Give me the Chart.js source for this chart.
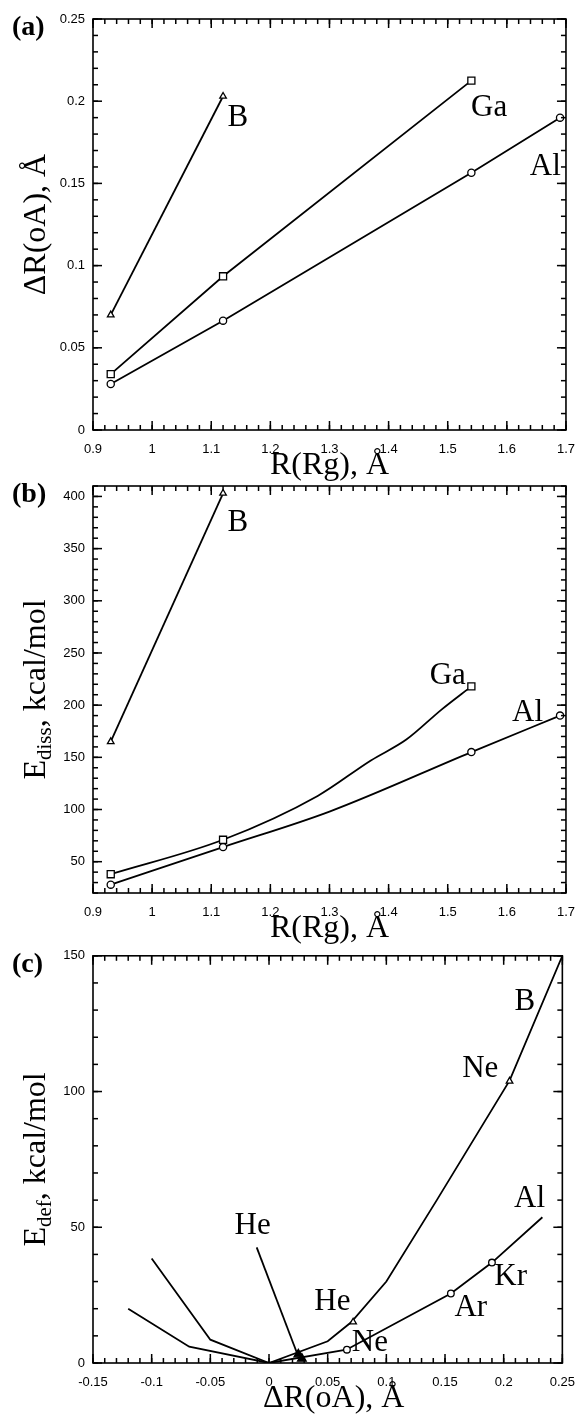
<!DOCTYPE html>
<html>
<head>
<meta charset="utf-8">
<script src="https://cdn.jsdelivr.net/npm/chart.js@4.4.0/dist/chart.umd.min.js"></script>
<style>
  body { margin: 0; background: #fff; width: 587px; height: 1414px; position: relative; overflow: hidden; }
  canvas { position: absolute; left: 0; }
</style>
</head>
<body>
<canvas id="chartA" width="587" height="490" style="top:0"></canvas>
<canvas id="chartB" width="587" height="480" style="top:470px"></canvas>
<canvas id="chartC" width="587" height="474" style="top:940px"></canvas>
<script>
// ---------- data ----------
// (a) ΔR(oA) against R(Rg)
const rgRadius = [0.93, 1.12, 1.54, 1.69];   // He, Ne, Ar, Kr
const dRB = [0.070, 0.203];
const dRGa = [0.034, 0.0935, 0.2125];
const dRAl = [0.028, 0.0665, 0.1565, 0.190];
const aXTicks = [0.9, 1, 1.1, 1.2, 1.3, 1.4, 1.5, 1.6, 1.7];
const aYTicks = [0, 0.05, 0.1, 0.15, 0.2, 0.25];

// (b) Ediss against R(Rg)
const eDissB = [165, 403];
const eDissGa = [38, 71, 218];
const eDissAl = [28, 64, 155, 190];
// the drawn curves between the points
const gaCurveX = [0.93, 1.12, 1.28, 1.37, 1.43, 1.49, 1.54];
const gaCurveY = [38, 71, 113, 147, 167, 196, 218];
const alCurveX = [0.93, 1.12, 1.3, 1.54, 1.69];
const alCurveY = [28, 64, 98, 155, 190];
const bXTicks = [0.9, 1, 1.1, 1.2, 1.3, 1.4, 1.5, 1.6, 1.7];
const bYTicks = [50, 100, 150, 200, 250, 300, 350, 400];

// (c) Edef against ΔR(oA)
const defBX = [-0.1, -0.05, 0, 0.05, 0.07, 0.1, 0.143, 0.205, 0.25];
const defBY = [38.5, 8.6, 0, 8, 15, 30, 60, 104, 150];
const defAlX = [-0.12, -0.068, 0, 0.066, 0.155, 0.19, 0.233];
const defAlY = [20, 6, 0, 4.9, 25.6, 37, 53.7];
const markBX = [0.0717, 0.205];            // He, Ne
const markBY = [15.1, 103.8];
const markAlX = [0.0664, 0.155, 0.19];     // Ne, Ar, Kr
const markAlY = [4.9, 25.6, 37];
const markHeX = [0.025, 0.028];            // He (filled)
const markHeY = [3.2, 1.6];
const cXTicks = [-0.15, -0.1, -0.05, 0, 0.05, 0.1, 0.15, 0.2, 0.25];
const cYTicks = [0, 50, 100, 150];

// ---------- helpers ----------
const zip = (xs, ys) => ys.map((y, i) => ({ x: xs[i], y: y }));
const tickFont = { family: '"Liberation Sans", Arial, sans-serif', size: 13 };
const SERIF = '"Liberation Serif", "Times New Roman", serif';

function lineSet(data, style, radius, smooth) {
  return {
    data: data,
    showLine: true,
    borderColor: '#000',
    borderWidth: 1.8,
    pointStyle: style || 'circle',
    pointRadius: radius || 0,
    pointBorderWidth: 1.3,
    pointBackgroundColor: '#fff',
    pointBorderColor: '#000',
    cubicInterpolationMode: smooth ? 'monotone' : 'default',
    tension: 0
  };
}

function markSet(data, style, radius, fill) {
  return {
    data: data,
    showLine: false,
    pointStyle: style,
    pointRadius: radius,
    pointBorderWidth: 1.3,
    pointBackgroundColor: fill || '#fff',
    pointBorderColor: '#000'
  };
}

function axes(xr, xTicks, yr, yTicks, xH) {
  const lbl = v => String(v);
  return {
    x: {
      type: 'linear', min: xr[0], max: xr[1],
      grid: { display: false, drawTicks: false }, border: { display: false },
      afterBuildTicks: s => { s.ticks = xTicks.map(v => ({ value: v })); },
      afterFit: s => { s.height = xH; },
      ticks: { padding: 12, font: tickFont, color: '#000', maxRotation: 0, autoSkip: false, callback: lbl }
    },
    y: {
      type: 'linear', min: yr[0], max: yr[1],
      grid: { display: false, drawTicks: false }, border: { display: false },
      afterBuildTicks: s => { s.ticks = yTicks.map(v => ({ value: v })); },
      afterFit: s => { s.width = 93; },
      ticks: { padding: 8, font: tickFont, color: '#000', autoSkip: false, callback: lbl }
    }
  };
}

// frame, inward ticks, titles and labels (one plugin per panel)
function decor(o) {
  return {
    id: 'decor',
    afterDraw(chart) {
      const { ctx, chartArea: a } = chart;
      const xs = chart.scales.x, ys = chart.scales.y;
      ctx.save();
      ctx.strokeStyle = '#000';
      ctx.fillStyle = '#000';
      ctx.lineWidth = 1.6;
      ctx.strokeRect(a.left, a.top, a.right - a.left, a.bottom - a.top);

      const t = 1.5;
      const mark = (v, len, isX) => {
        if (isX) {
          const p = xs.getPixelForValue(v);
          ctx.fillRect(p - t / 2, a.bottom - len, t, len);
          ctx.fillRect(p - t / 2, a.top, t, len);
        } else {
          const p = ys.getPixelForValue(v);
          ctx.fillRect(a.left, p - t / 2, len, t);
          ctx.fillRect(a.right - len, p - t / 2, len, t);
        }
      };
      const x0 = o.xRange[0], x1 = o.xRange[1], y0 = o.yRange[0], y1 = o.yRange[1];
      for (let i = 0; x0 + i * o.xMinor <= x1 + 1e-9; i++) mark(x0 + i * o.xMinor, 5, true);
      for (let i = 0; y0 + i * o.yMinor <= y1 + 1e-9; i++) mark(y0 + i * o.yMinor, 5, false);
      o.xMajor.forEach(v => mark(v, 9, true));
      o.yMajor.forEach(v => mark(v, 9, false));

      // arrow (panel c)
      if (o.arrow) {
        const ax1 = xs.getPixelForValue(o.arrow[0]), ay1 = ys.getPixelForValue(o.arrow[1]);
        const ax2 = xs.getPixelForValue(o.arrow[2]), ay2 = ys.getPixelForValue(o.arrow[3]);
        ctx.lineWidth = 1.8;
        ctx.beginPath(); ctx.moveTo(ax1, ay1); ctx.lineTo(ax2, ay2); ctx.stroke();
      }

      // curve labels
      ctx.font = '31px ' + SERIF;
      ctx.textAlign = 'center';
      ctx.textBaseline = 'middle';
      o.notes.forEach(n => ctx.fillText(n[0], xs.getPixelForValue(n[1]), ys.getPixelForValue(n[2])));

      // x title
      ctx.font = '32px ' + SERIF;
      ctx.fillText(o.xTitle, (a.left + a.right) / 2 + (o.xTitleShift || 0), a.bottom + 36);

      // panel letter
      ctx.font = 'bold 28px ' + SERIF;
      ctx.textAlign = 'left';
      ctx.fillText(o.panel, 12, a.top + 9);

      // y title, rotated, with optional subscript
      ctx.translate(34, (a.top + a.bottom) / 2 + (o.yTitleShift || 0));
      ctx.rotate(-Math.PI / 2);
      ctx.textBaseline = 'alphabetic';
      let w = 0;
      o.yTitle.forEach(p => { ctx.font = (p.sub ? '21px ' : '32px ') + SERIF; w += ctx.measureText(p.t).width; });
      let x = -w / 2;
      o.yTitle.forEach(p => {
        ctx.font = (p.sub ? '21px ' : '32px ') + SERIF;
        ctx.fillText(p.t, x, p.sub ? 17 : 11);
        x += ctx.measureText(p.t).width;
      });
      ctx.restore();
    }
  };
}

function makeChart(id, datasets, xr, xTicks, yr, yTicks, xH, padTop, deco) {
  deco.xRange = xr; deco.yRange = yr; deco.xMajor = xTicks; deco.yMajor = yTicks;
  return new Chart(document.getElementById(id), {
    type: 'scatter',
    data: { datasets: datasets },
    options: {
      responsive: false,
      animation: false,
      devicePixelRatio: 1,
      layout: { padding: { top: padTop, right: 12, left: 0, bottom: 0 } },
      scales: axes(xr, xTicks, yr, yTicks, xH),
      plugins: { legend: { display: false }, tooltip: { enabled: false } }
    },
    plugins: [decor(deco)]
  });
}

// ---------- (a) ----------
makeChart('chartA', [
  lineSet(zip(rgRadius, dRB), 'triangle', 3.8),
  lineSet(zip(rgRadius, dRGa), 'rect', 5),
  lineSet(zip(rgRadius, dRAl), 'circle', 3.6)
], [0.9, 1.7], aXTicks, [0, 0.25], aYTicks, 60, 19, {
  xMinor: 0.02, yMinor: 0.01,
  notes: [['B', 1.145, 0.19], ['Ga', 1.57, 0.196], ['Al', 1.665, 0.16]],
  xTitle: 'R(Rg), Å', panel: '(a)',
  yTitle: [{ t: 'ΔR(oA), Å' }]
});

// ---------- (b) ----------
makeChart('chartB', [
  markSet(zip(rgRadius, eDissGa), 'rect', 5),
  markSet(zip(rgRadius, eDissAl), 'circle', 3.6),
  lineSet(zip(rgRadius, eDissB), 'triangle', 3.8),
  lineSet(zip(gaCurveX, gaCurveY), null, 0, true),
  lineSet(zip(alCurveX, alCurveY), null, 0, true)
], [0.9, 1.7], bXTicks, [20, 410], bYTicks, 57, 16, {
  xMinor: 0.02, yMinor: 10,
  notes: [['B', 1.145, 375], ['Ga', 1.5, 228], ['Al', 1.635, 193]],
  xTitle: 'R(Rg), Å', panel: '(b)',
  yTitle: [{ t: 'E' }, { t: 'diss', sub: true }, { t: ', kcal/mol' }]
});

// ---------- (c) ----------
makeChart('chartC', [
  markSet(zip(markHeX, markHeY), 'triangle', 5, '#000'),
  markSet(zip(markBX, markBY), 'triangle', 3.8),
  markSet(zip(markAlX, markAlY), 'circle', 3.3),
  lineSet(zip(defBX, defBY)),
  lineSet(zip(defAlX, defAlY))
], [-0.15, 0.25], cXTicks, [0, 150], cYTicks, 51, 15, {
  xMinor: 0.01, yMinor: 10,
  arrow: [-0.0105, 42.6, 0.024, 3.5],
  notes: [['B', 0.218, 133], ['Ne', 0.18, 108.5], ['He', -0.014, 50.5], ['He', 0.054, 22.5],
          ['Ne', 0.086, 7.3], ['Ar', 0.172, 20.2], ['Kr', 0.206, 31.7], ['Al', 0.222, 60.6]],
  xTitle: 'ΔR(oA), Å', xTitleShift: 6, panel: '(c)',
  yTitle: [{ t: 'E' }, { t: 'def', sub: true }, { t: ', kcal/mol' }]
});
</script>
</body>
</html>
